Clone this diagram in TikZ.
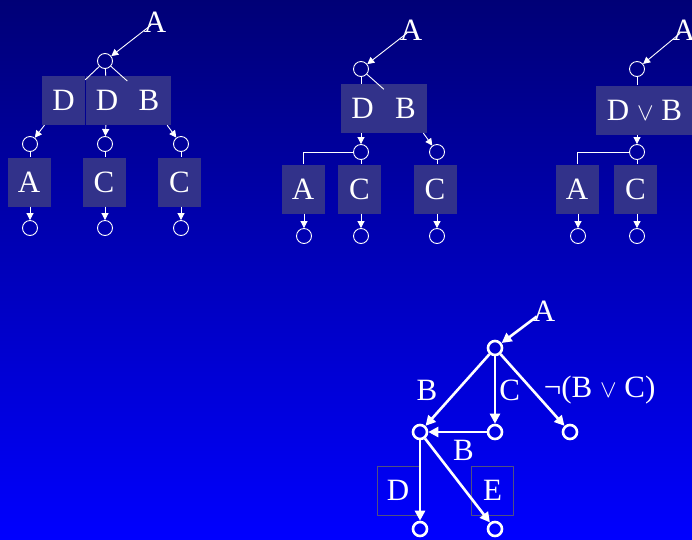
\documentclass[tikz,border=0pt]{standalone}
\usepackage{fontspec}
\setmainfont{Liberation Serif}
\usetikzlibrary{arrows.meta,positioning}

\definecolor{bgtop}{RGB}{0,0,118}
\definecolor{bgmid}{RGB}{0,0,222}
\definecolor{bgbot}{RGB}{0,0,255}
\definecolor{litfill}{RGB}{50,50,138}
\definecolor{litedge}{RGB}{80,80,130}

\begin{document}
\begin{tikzpicture}[
		x=1pt, y=-1pt,
		line join=round,
		font=\fontsize{31}{31}\selectfont,
		>={Triangle[length=7pt,width=7pt]},
		state/.style={circle, draw=white, line width=0.9pt, minimum size=15pt, inner sep=0pt},
		bigstate/.style={circle, draw=white, line width=2.6pt, minimum size=14pt, inner sep=0pt},
		lit/.style={fill=litfill, text=white, minimum width=43pt, minimum height=49pt, inner sep=0pt},
		litframe/.style={draw=litedge, line width=0.6pt, text=white, minimum width=42pt, minimum height=49pt, inner sep=0pt},
		lab/.style={text=white, inner sep=0pt},
		link/.style={white, line width=0.9pt},
		edge/.style={white, ->, line width=0.9pt},
		bigedge/.style={white, line width=2.6pt, -{Triangle[length=10pt,width=10pt]}}
	]
	
	% Background
	\useasboundingbox (0,0) rectangle (692,539);
	\shade[top color=bgtop, middle color=bgmid, bottom color=bgbot] (0,0) rectangle (692,539);
	
	% First tree
	\node[lab] (a1) at (155,22) {A};
	\node[state] (r1) at (105,61) {};
	\node[lit] (d1) at (63.5,100.5) {D};
	\node[lit] (d2) at (107,100.5) {D};
	\node[lit] (b1) at (149,100.5) {B};
	\node[state] (p1) at (30,144) {};
	\node[state] (p2) at (105,144) {};
	\node[state] (p3) at (181,144) {};
	\node[lit] (x1) at (29,182) {A};
	\node[lit] (x2) at (104,182) {C};
	\node[lit] (x3) at (179.5,182) {C};
	\node[state] (q1) at (30,228) {};
	\node[state] (q2) at (105,228) {};
	\node[state] (q3) at (181,228) {};
	
	\draw[edge, shorten <=5pt] (a1.center) -- (r1);
	\draw[link] (r1) -- (d1);
	\draw[link] (r1) -- (d2);
	\draw[link] (r1) -- (b1);
	\draw[edge] (d1) -- (p1);
	\draw[edge] (d2) -- (p2);
	\draw[edge] (b1) -- (p3);
	\draw[link] (p1) -- (p1 |- x1.north);
	\draw[link] (p2) -- (p2 |- x2.north);
	\draw[link] (p3) -- (p3 |- x3.north);
	\draw[edge] (x1.south -| q1) -- (q1);
	\draw[edge] (x2.south -| q2) -- (q2);
	\draw[edge] (x3.south -| q3) -- (q3);
	
	% Second tree
	\node[lab] (a2) at (411,30) {A};
	\node[state] (r2) at (361,69) {};
	\node[lit] (d3) at (362.5,108.5) {D};
	\node[lit] (b2) at (405.5,108.5) {B};
	\node[state] (p4) at (361,152) {};
	\node[state] (p5) at (437,152) {};
	\node[lit] (x4) at (303,189) {A};
	\node[lit] (x5) at (359.5,189) {C};
	\node[lit] (x6) at (435,189) {C};
	\node[state] (q4) at (304,236) {};
	\node[state] (q5) at (361,236) {};
	\node[state] (q6) at (437,236) {};
	
	\draw[edge, shorten <=5pt] (a2.center) -- (r2);
	\draw[link] (r2) -- (r2 |- d3.north);
	\draw[link] (r2) -- (b2);
	\draw[edge] (d3.south -| p4) -- (p4);
	\draw[edge] (b2) -- (p5);
	\draw[link] (p4) -| (x4.north);
	\draw[link] (p4) -- (p4 |- x5.north);
	\draw[link] (p5) -- (p5 |- x6.north);
	\draw[edge] (x4.south -| q4) -- (q4);
	\draw[edge] (x5.south -| q5) -- (q5);
	\draw[edge] (x6.south -| q6) -- (q6);
	
	% Third tree
	\node[lab] (a3) at (684,30) {A};
	\node[state] (r3) at (637,69) {};
	\node[lit, minimum width=97pt] (db) at (644.5,110) {D $\vee$ B};
	\node[state] (p6) at (637,152) {};
	\node[lit] (x7) at (577,189) {A};
	\node[lit] (x8) at (635.5,189) {C};
	\node[state] (q7) at (578,236) {};
	\node[state] (q8) at (637,236) {};
	
	\draw[edge, shorten <=5pt] (a3.center) -- (r3);
	\draw[link] (r3) -- (r3 |- db.north);
	\draw[edge] (db.south -| p6) -- (p6);
	\draw[link] (p6) -| (x7.north);
	\draw[link] (p6) -- (p6 |- x8.north);
	\draw[edge] (x7.south -| q7) -- (q7);
	\draw[edge] (x8.south -| q8) -- (q8);
	
	% Merged tree
	\node[litframe] (dd) at (398,490.5) {D};
	\node[litframe] (ee) at (492.5,490.5) {E};
	\node[lab] (a4) at (544,311) {A};
	\node[bigstate] (r4) at (495,348) {};
	\node[bigstate] (s1) at (420,432) {};
	\node[bigstate] (s2) at (495,432) {};
	\node[bigstate] (s3) at (570,432) {};
	\node[bigstate] (t1) at (420,529) {};
	\node[bigstate] (t2) at (495,529) {};
	
	\draw[bigedge, shorten <=9pt] (a4.center) -- (r4);
	\draw[bigedge] (r4) -- node[lab, left=19pt] {B} (s1);
	\draw[bigedge] (r4) -- node[lab, right=3pt] {C} (s2);
	\draw[bigedge] (r4) -- node[lab, right=10pt] {¬(B $\vee$ C)} (s3);
	\draw[bigedge] (s2) -- node[lab, below=7pt, xshift=6pt] {B} (s1);
	\draw[bigedge] (s1) -- (t1);
	\draw[bigedge] (s1) -- (t2);
	
\end{tikzpicture}
\end{document}
